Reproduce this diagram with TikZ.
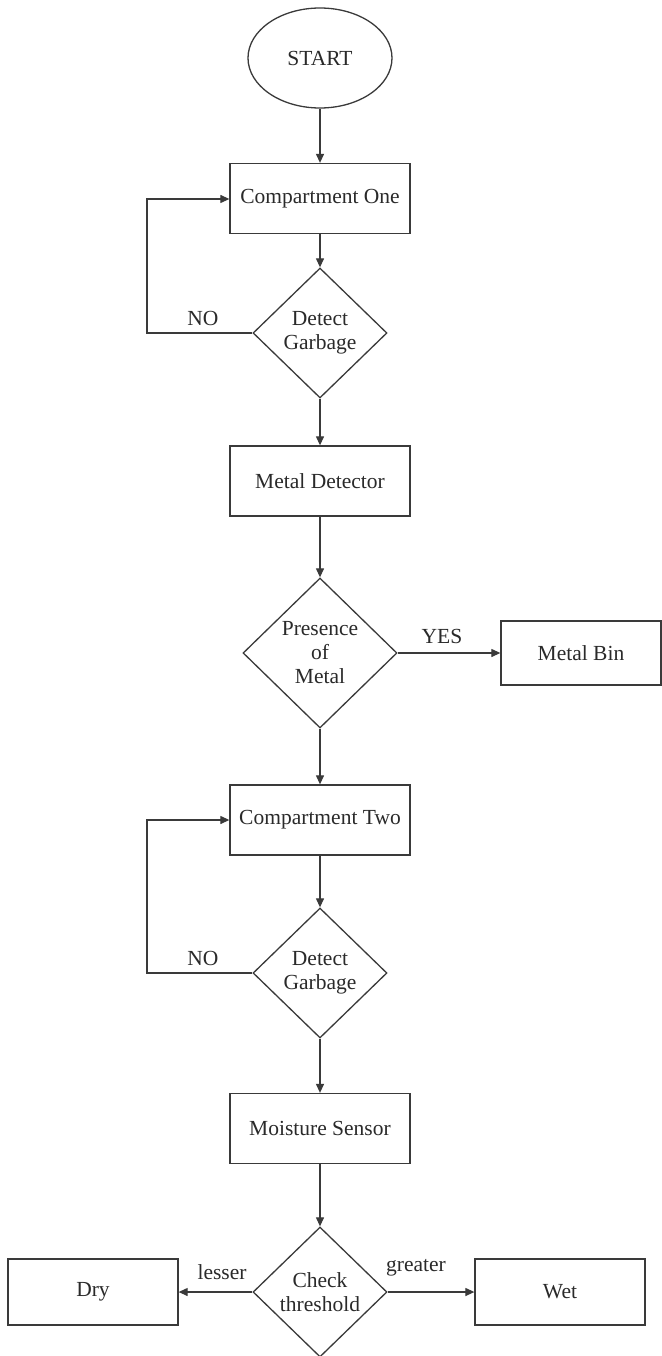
\documentclass[tikz,border=0pt]{standalone}
\usepackage{fontspec}
\setmainfont{Liberation Serif}
\usetikzlibrary{shapes.geometric,arrows.meta}
\definecolor{linec}{HTML}{3A3A3A}
\definecolor{textc}{HTML}{2A2A2A}
\begin{document}
\begin{tikzpicture}[x=1pt,y=-1pt,
  every node/.style={font=\fontsize{21.5}{24}\selectfont, text=textc},
  proc/.style={draw=linec, line width=1.3pt, rectangle, minimum width=180pt, minimum height=70pt, inner sep=0pt},
  dec/.style={draw=linec, line width=1.3pt, diamond, minimum width=134pt, minimum height=130pt, inner sep=0pt, align=center},
  term/.style={draw=linec, line width=1.3pt, ellipse, minimum width=144pt, minimum height=100pt, inner sep=0pt},
  arr/.style={draw=linec, line width=1.2pt, -{Triangle[length=9pt,width=8pt]}},
  lbl/.style={inner sep=0pt}
]
\useasboundingbox[fill=white] (0,0) rectangle (661,1356);

\node[term] (start) at (320,58) {START};
\node[proc] (c1) at (320,198.5) {Compartment One};
\node[dec] (d1) at (320,333) {Detect\\Garbage};
\node[proc] (md) at (320,481) {Metal Detector};
\node[dec, minimum width=154pt, minimum height=150pt] (pm) at (320,653) {Presence\\of\\Metal};
\node[proc, minimum width=160pt, minimum height=64pt] (mb) at (581,653) {Metal Bin};
\node[proc] (c2) at (320,820) {Compartment Two};
\node[dec] (d2) at (320,973) {Detect\\Garbage};
\node[proc] (ms) at (320,1128.5) {Moisture Sensor};
\node[dec] (ct) at (320,1292) {Check\\threshold};
\node[proc, minimum width=170pt, minimum height=66pt] (dry) at (93,1292) {Dry};
\node[proc, minimum width=170pt, minimum height=66pt] (wet) at (560,1292) {Wet};

\coordinate (l1) at (147,333);
\coordinate (l1t) at (147,199);
\coordinate (l2) at (147,973);
\coordinate (l2t) at (147,820);

\draw[arr] (start) -- (c1);
\draw[arr] (c1) -- (d1);
\draw[arr] (d1) -- (md);
\draw[arr] (md) -- (pm);
\draw[arr] (pm) -- (c2);
\draw[arr] (pm.east) -- (mb.west);
\draw[arr] (c2) -- (d2);
\draw[arr] (d2) -- (ms);
\draw[arr] (ms) -- (ct);
\draw[arr] (ct.west) -- (dry.east);
\draw[arr] (ct.east) -- (wet.west);
\draw[arr] (d1.west) -- (l1) -- (l1t) -- (c1.west |- l1t);
\draw[arr] (d2.west) -- (l2) -- (l2t) -- (c2.west |- l2t);

\node[lbl] (no1) at (203,318) {NO};
\node[lbl] (no2) at (203,958) {NO};
\node[lbl] (yes) at (442,636) {YES};
\node[lbl] (less) at (222,1272) {lesser};
\node[lbl] (great) at (416,1268) {greater};
\end{tikzpicture}
\end{document}
